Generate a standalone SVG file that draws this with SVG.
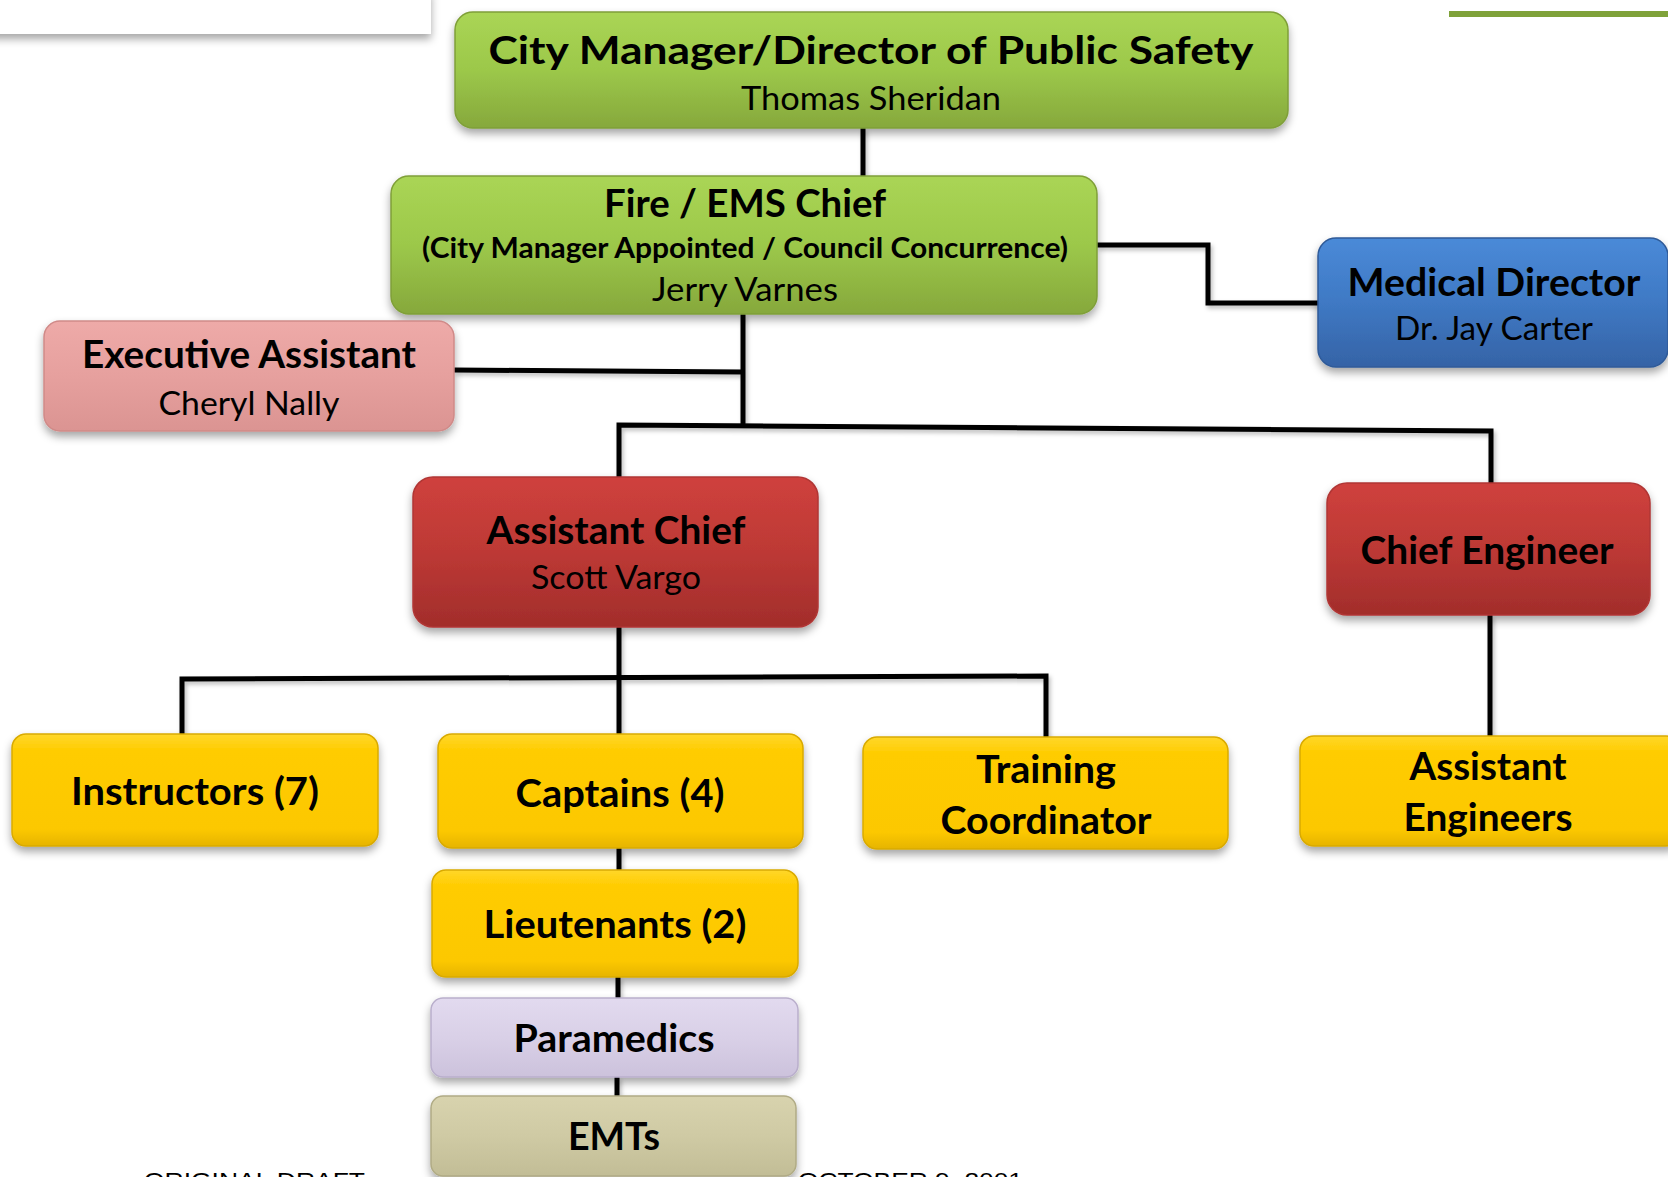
<svg xmlns="http://www.w3.org/2000/svg" width="1668" height="1177" viewBox="0 0 1668 1177">
<defs>
  <filter id="sh" x="-10%" y="-20%" width="120%" height="150%">
    <feDropShadow dx="0" dy="5" stdDeviation="4" flood-color="#000" flood-opacity="0.35"/>
  </filter>
  <filter id="lsh" filterUnits="userSpaceOnUse" x="0" y="0" width="1668" height="1177">
    <feDropShadow dx="2" dy="3" stdDeviation="2" flood-color="#000" flood-opacity="0.25"/>
  </filter>
  <linearGradient id="gGreen" x1="0" y1="0" x2="0" y2="1">
    <stop offset="0" stop-color="#aad555"/>
    <stop offset="0.5" stop-color="#9cc84a"/>
    <stop offset="1" stop-color="#86a83c"/>
  </linearGradient>
  <linearGradient id="gBlue" x1="0" y1="0" x2="0" y2="1">
    <stop offset="0" stop-color="#4a8ad8"/>
    <stop offset="0.5" stop-color="#3f79c4"/>
    <stop offset="1" stop-color="#3563a6"/>
  </linearGradient>
  <linearGradient id="gPink" x1="0" y1="0" x2="0" y2="1">
    <stop offset="0" stop-color="#eeaaa8"/>
    <stop offset="0.5" stop-color="#e6a09e"/>
    <stop offset="1" stop-color="#db9492"/>
  </linearGradient>
  <linearGradient id="gRed" x1="0" y1="0" x2="0" y2="1">
    <stop offset="0" stop-color="#cf413d"/>
    <stop offset="0.5" stop-color="#bd3935"/>
    <stop offset="1" stop-color="#a22d2b"/>
  </linearGradient>
  <linearGradient id="gYellow" x1="0" y1="0" x2="0" y2="1">
    <stop offset="0" stop-color="#ffd72a"/>
    <stop offset="0.15" stop-color="#ffcc00"/>
    <stop offset="0.85" stop-color="#fcc800"/>
    <stop offset="1" stop-color="#e6b400"/>
  </linearGradient>
  <linearGradient id="gLav" x1="0" y1="0" x2="0" y2="1">
    <stop offset="0" stop-color="#e2daef"/>
    <stop offset="0.5" stop-color="#d9d0e7"/>
    <stop offset="1" stop-color="#ccc2dc"/>
  </linearGradient>
  <linearGradient id="gTan" x1="0" y1="0" x2="0" y2="1">
    <stop offset="0" stop-color="#d8d3ae"/>
    <stop offset="0.5" stop-color="#cfcaa4"/>
    <stop offset="1" stop-color="#c2bd96"/>
  </linearGradient>
</defs>
<style>
  .t { font-family: Lato, "Liberation Sans", sans-serif; font-weight: 700; font-size: 37.5px; fill: #000; text-anchor: middle; }
  .n { font-family: Lato, "Liberation Sans", sans-serif; font-weight: 400; font-size: 33px; fill: #000; text-anchor: middle; }
  .s { font-family: Lato, "Liberation Sans", sans-serif; font-weight: 700; font-size: 28.5px; fill: #000; text-anchor: middle; }
  .f { font-family: "Liberation Sans", Arial, sans-serif; font-size: 22px; fill: #000; }
  .box { filter: url(#sh); stroke-width: 1.5; }
  .green { fill: url(#gGreen); stroke: #7f9f38; }
  .blue { fill: url(#gBlue); stroke: #2f5a98; }
  .pink { fill: url(#gPink); stroke: #d08a88; }
  .red { fill: url(#gRed); stroke: #b03634; }
  .yellow { fill: url(#gYellow); stroke: #d9aa00; }
  .lav { fill: url(#gLav); stroke: #b9aecb; }
  .tan { fill: url(#gTan); stroke: #b0ab85; }
  .conn path { fill: none; stroke: #000; stroke-width: 5; }
</style>
<rect width="1668" height="1177" fill="#ffffff"/>

<!-- decorative slide elements -->
<rect x="-10" y="-10" width="441" height="44" fill="#ffffff" filter="url(#sh)"/>
<rect x="1449" y="11" width="225" height="6" fill="#7fa23a"/>

<g class="conn" id="connectors" filter="url(#lsh)">
  <path d="M863 128 V176"/>
  <path d="M1097 245 H1208 V303 H1318"/>
  <path d="M454 370 L743 372"/>
  <path d="M743 314 V425"/>
  <path d="M619 477 V425 L1491 431 V484"/>
  <path d="M1490 615 V737"/>
  <path d="M619 627 V734"/>
  <path d="M182 735 V679 L1046 676 V738"/>
  <path d="M619 848 V870"/>
  <path d="M618 977 V998"/>
  <path d="M617 1077 V1096"/>
</g>

<g id="city-manager">
  <rect class="box green" x="455" y="12" width="833" height="116" rx="18"/>
  <text class="t" x="871" y="64" font-size="43" textLength="765" lengthAdjust="spacingAndGlyphs">City Manager/Director of Public Safety</text>
  <text class="n" x="871" y="110" textLength="260" lengthAdjust="spacingAndGlyphs">Thomas Sheridan</text>
</g>

<g id="fire-ems-chief">
  <rect class="box green" x="391" y="176" width="706" height="138" rx="18"/>
  <text class="t" x="745" y="217" textLength="282" lengthAdjust="spacingAndGlyphs">Fire / EMS Chief</text>
  <text class="s" x="745" y="258" textLength="646" lengthAdjust="spacingAndGlyphs">(City Manager Appointed / Council Concurrence)</text>
  <text class="n" x="745" y="301" textLength="186" lengthAdjust="spacingAndGlyphs">Jerry Varnes</text>
</g>

<g id="medical-director">
  <rect class="box blue" x="1318" y="238" width="350" height="129" rx="18"/>
  <text class="t" x="1494" y="296" textLength="293" lengthAdjust="spacingAndGlyphs">Medical Director</text>
  <text class="n" x="1494" y="340" textLength="198" lengthAdjust="spacingAndGlyphs">Dr. Jay Carter</text>
</g>

<g id="executive-assistant">
  <rect class="box pink" x="44" y="321" width="410" height="110" rx="16"/>
  <text class="t" x="249" y="368" textLength="334" lengthAdjust="spacingAndGlyphs">Executive Assistant</text>
  <text class="n" x="249" y="415" textLength="181" lengthAdjust="spacingAndGlyphs">Cheryl Nally</text>
</g>

<g id="assistant-chief">
  <rect class="box red" x="413" y="477" width="405" height="150" rx="20"/>
  <text class="t" x="616" y="544" textLength="259" lengthAdjust="spacingAndGlyphs">Assistant Chief</text>
  <text class="n" x="616" y="589" textLength="170" lengthAdjust="spacingAndGlyphs">Scott Vargo</text>
</g>

<g id="chief-engineer">
  <rect class="box red" x="1327" y="483" width="323" height="132" rx="20"/>
  <text class="t" x="1487" y="564" textLength="253" lengthAdjust="spacingAndGlyphs">Chief Engineer</text>
</g>

<g id="instructors">
  <rect class="box yellow" x="12" y="734" width="366" height="112" rx="14"/>
  <text class="t" x="195" y="805" textLength="248" lengthAdjust="spacingAndGlyphs">Instructors (7)</text>
</g>

<g id="captains">
  <rect class="box yellow" x="438" y="734" width="365" height="114" rx="14"/>
  <text class="t" x="620" y="807" textLength="209" lengthAdjust="spacingAndGlyphs">Captains (4)</text>
</g>

<g id="training-coordinator">
  <rect class="box yellow" x="863" y="737" width="365" height="112" rx="14"/>
  <text class="t" x="1046" y="783" textLength="140" lengthAdjust="spacingAndGlyphs">Training</text>
  <text class="t" x="1046" y="834" textLength="211" lengthAdjust="spacingAndGlyphs">Coordinator</text>
</g>

<g id="assistant-engineers">
  <rect class="box yellow" x="1300" y="736" width="380" height="110" rx="14"/>
  <text class="t" x="1488" y="780" textLength="157" lengthAdjust="spacingAndGlyphs">Assistant</text>
  <text class="t" x="1488" y="831" textLength="169" lengthAdjust="spacingAndGlyphs">Engineers</text>
</g>

<g id="lieutenants">
  <rect class="box yellow" x="432" y="870" width="366" height="107" rx="14"/>
  <text class="t" x="615" y="938" textLength="263" lengthAdjust="spacingAndGlyphs">Lieutenants (2)</text>
</g>

<g id="paramedics">
  <rect class="box lav" x="431" y="998" width="367" height="79" rx="12"/>
  <text class="t" x="614" y="1052" textLength="201" lengthAdjust="spacingAndGlyphs">Paramedics</text>
</g>

<g id="emts">
  <rect class="box tan" x="431" y="1096" width="365" height="80" rx="12"/>
  <text class="t" x="614" y="1150" textLength="92" lengthAdjust="spacingAndGlyphs">EMTs</text>
</g>

<text class="f" x="144" y="1188" textLength="221" lengthAdjust="spacingAndGlyphs">ORIGINAL DRAFT</text>
<text class="f" x="798" y="1188" textLength="225" lengthAdjust="spacingAndGlyphs">OCTOBER 9, 2001</text>
</svg>
